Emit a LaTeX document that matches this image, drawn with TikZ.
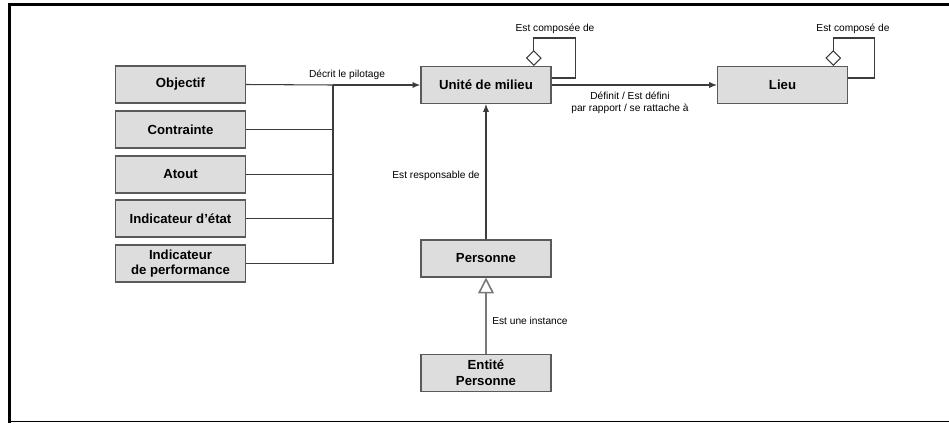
\documentclass[tikz,border=0pt]{standalone}
\usepackage{fontspec}
\setmainfont{Liberation Sans}
\usepackage{xcolor}
\definecolor{boxfill}{RGB}{221,221,221}
\definecolor{boxline}{RGB}{90,90,90}
\definecolor{linkgray}{RGB}{60,60,60}
\definecolor{instgray}{RGB}{120,120,120}
\usepackage{tikz}
\usetikzlibrary{arrows.meta, positioning, calc}

\tikzset{
  entity/.style={draw=boxline, fill=boxfill, line width=0.6pt, minimum width=130*0.02cm,
    minimum height=37*0.02cm, inner sep=1pt, align=center,
    font=\fontsize{7.5}{9}\selectfont\bfseries},
  rellabel/.style={font=\fontsize{5.8}{7}\selectfont, align=center, inner sep=0pt},
  link/.style={draw=linkgray, line width=0.6pt},
  tohead/.style={-{Latex[length=4.5pt,width=3.6pt]}},
  agg/.style={-{Diamond[open,fill=white,length=9pt,width=9pt]}},
}

\begin{document}
\begin{tikzpicture}[x=0.02cm, y=-0.02cm]
  \useasboundingbox (0,0) rectangle (949,423);

  % frame
  \draw[line width=1.7pt] (9.5,423) -- (9.5,4.5) -- (949,4.5);
  \draw[line width=0.8pt] (9.5,421.5) -- (949,421.5);

  % left column
  \node[entity] (objectif) at (180.5,84.5) {Objectif};
  \node[entity] (contrainte) at (180.5,129.5) {Contrainte};
  \node[entity] (atout) at (180.5,174.5) {Atout};
  \node[entity] (etat) at (180.5,218.5) {Indicateur d'état};
  \node[entity] (perf) at (180.5,263.5) {Indicateur\\de performance};

  % centre and right
  \node[entity] (unite) at (486,85) {Unité de milieu};
  \node[entity] (lieu) at (782.5,85) {Lieu};
  \node[entity] (personne) at (486,258.5) {Personne};
  \node[entity] (entite) at (486,373) {Entité\\Personne};

  % Decrit le pilotage
  \coordinate (bus) at (333,85);
  \draw[link] (objectif.east) -- (bus);
  \foreach \n in {contrainte, atout, etat, perf}
    \draw[link] (\n.east) -| (bus);
  \draw[link, line width=1.2pt, tohead] (bus) -- (unite.west);
  \node[rellabel] (lblpilot) at (347,75) {Décrit le pilotage};

  % self loops
  \draw[link, agg] ([yshift=4pt]unite.east) -- ++(24,0) -- ++(0,-40)
    -| ([xshift=27.2pt]unite.north);
  \node[rellabel] (lblunite) at (555,29) {Est composée de};
  \draw[link, agg] ([yshift=4pt]lieu.east) -- ++(26,0) -- ++(0,-40)
    -| ([xshift=28.9pt]lieu.north);
  \node[rellabel] (lbllieu) at (853,29) {Est composé de};

  % Unite -> Lieu
  \draw[link, tohead] (unite.east) -- (lieu.west);
  \node[rellabel] (lbldef) at (630,103) {Définit / Est défini\\par rapport / se rattache à};

  % Personne -> Unite
  \draw[link, tohead] (personne.north) -- (unite.south);
  \node[rellabel] (lblresp) at (436,176) {Est responsable de};

  % instance
  \draw[draw=instgray, line width=0.9pt, -{Triangle[open,fill=white,length=9pt,width=9pt]}]
    (entite.north) -- (personne.south);
  \node[rellabel] (lblinst) at (530,321) {Est une instance};
\end{tikzpicture}
\end{document}
